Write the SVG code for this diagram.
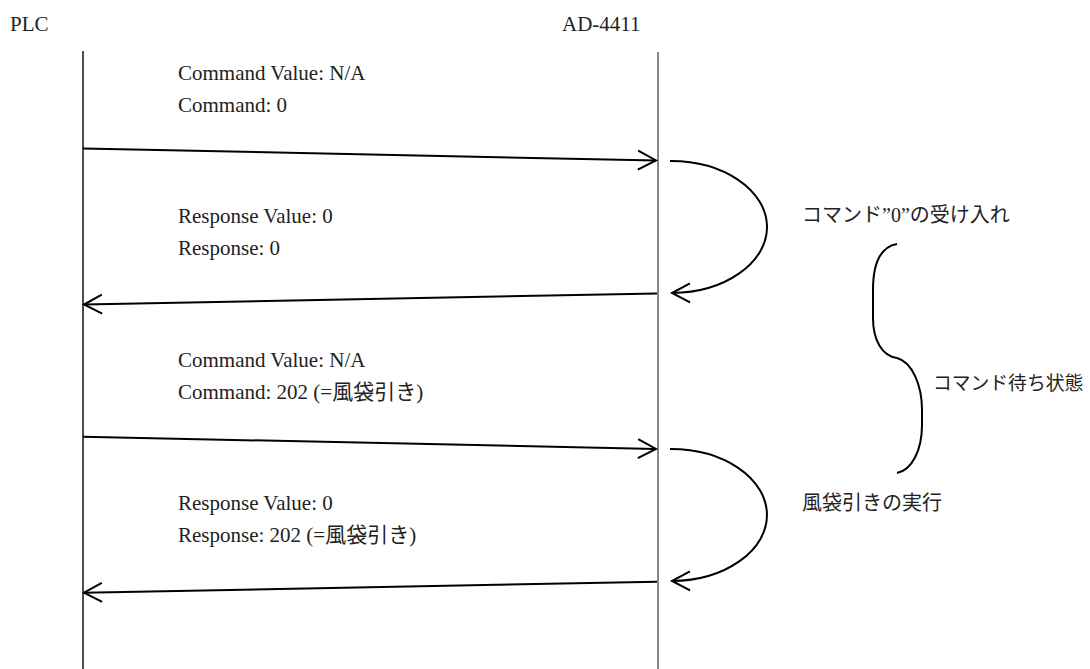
<svg xmlns="http://www.w3.org/2000/svg" width="1090" height="669" viewBox="0 0 1090 669">
<style>
text { font-family: "Liberation Serif", "Noto Sans CJK JP", serif; font-size: 21px; fill: #222; }
.jp { font-size: 20px; }
.jp2 { font-size: 18.8px; }
.msg { fill: none; stroke: #000; stroke-width: 2; }
.life { fill: none; stroke-width: 1.4; }
</style>
<defs>
<marker id="open" markerUnits="userSpaceOnUse" viewBox="-22 -13 26 26" refX="0" refY="0" markerWidth="26" markerHeight="26" orient="auto" overflow="visible">
<path d="M-18,-9.5 L0,0 L-18,9.5" fill="none" stroke="#000" stroke-width="2"/>
</marker>
</defs>
<rect width="1090" height="669" fill="#fff"/>
<g id="plc">
<text x="10" y="31">PLC</text>
<line class="life" x1="83" y1="51" x2="83" y2="669" stroke="#000"/>
</g>
<g id="ad4411">
<text x="562" y="31">AD-4411</text>
<line class="life" x1="658" y1="52" x2="658" y2="669" stroke="#555"/>
</g>
<g id="connectors">
<path class="msg" d="M83,148.5 L656,160.5" marker-end="url(#open)"/>
<path class="msg" d="M657,293.5 L84,304.5" marker-end="url(#open)"/>
<path class="msg" d="M83,436.7 L656,449" marker-end="url(#open)"/>
<path class="msg" d="M657,581.7 L84,592.7" marker-end="url(#open)"/>
<path class="msg" d="M670,161 A96,66 0 0 1 672,293" marker-end="url(#open)"/>
<path class="msg" d="M670,449 A96,66 0 0 1 672,581" marker-end="url(#open)"/>
</g>
<g id="msg1">
<text x="178" y="80">Command Value: N/A</text>
<text x="178" y="112">Command: 0</text>
</g>
<g id="msg2">
<text x="178" y="223">Response Value: 0</text>
<text x="178" y="255">Response: 0</text>
</g>
<g id="msg3">
<text x="178" y="367">Command Value: N/A</text>
<text x="178" y="399">Command: 202 (=風袋引き)</text>
</g>
<g id="msg4">
<text x="178" y="510">Response Value: 0</text>
<text x="178" y="542">Response: 202 (=風袋引き)</text>
</g>
<g id="accept">
<text class="jp" x="802" y="222">コマンド”0”の受け入れ</text>
</g>
<g id="wait">
<path class="msg" d="M897,244 C880,247 873,265 873,290 L873,318 C873,340 882,356 897,358"/>
<path class="msg" d="M897,358 C912,362 922,385 922,410 L922,425 C922,450 912,470 897,473"/>
<text class="jp2" x="933" y="390">コマンド待ち状態</text>
</g>
<g id="exec">
<text class="jp" x="802" y="510">風袋引きの実行</text>
</g>
</svg>
